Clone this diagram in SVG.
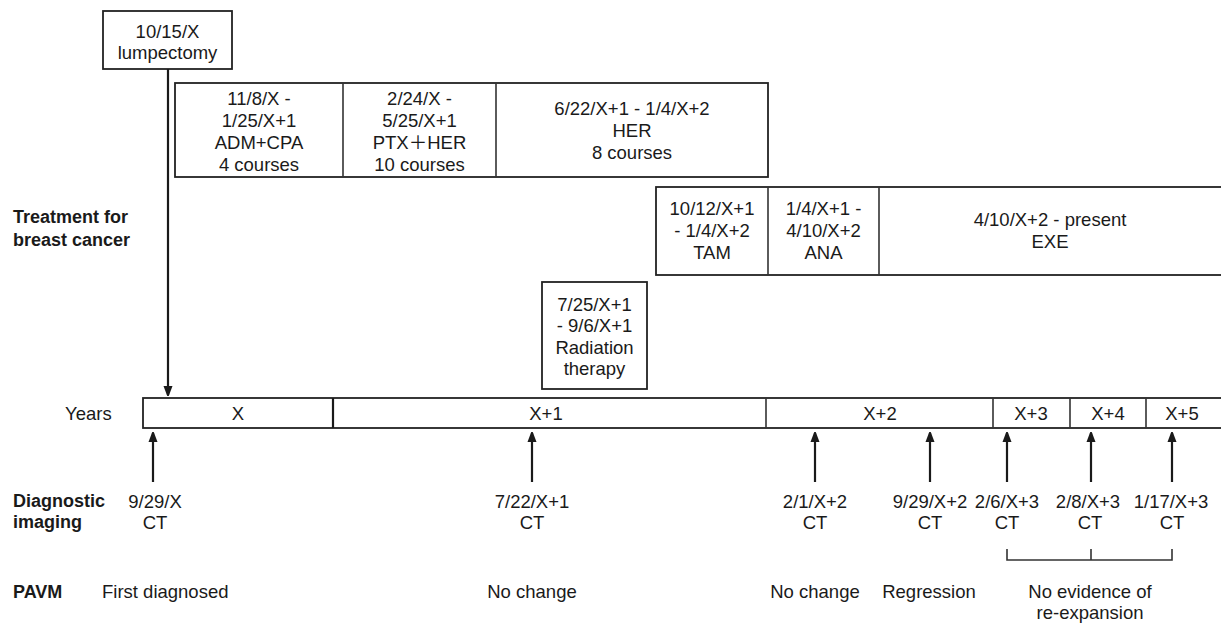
<svg xmlns="http://www.w3.org/2000/svg" width="1221" height="623" viewBox="0 0 1221 623">
<defs>
<style>
text{font-family:"Liberation Sans",Arial,"Noto Sans CJK JP",sans-serif;font-size:18.5px;fill:#1a1a1a;text-anchor:middle}
.b{font-weight:bold;text-anchor:start;font-size:18px}
.s{text-anchor:start}
.box{fill:#fff;stroke:#222;stroke-width:1.8}
.ln{stroke:#1a1a1a;stroke-width:2.2;fill:none}
.br{stroke:#333;stroke-width:1.6;fill:none}
</style>
<marker id="ah" viewBox="0 0 10 14" refX="9" refY="7" markerWidth="10" markerHeight="14" markerUnits="userSpaceOnUse" orient="auto">
<path d="M0,2.5 L12,7 L0,11.5 Z" fill="#1a1a1a"/>
</marker>
</defs>
<rect width="1221" height="623" fill="#fff"/>

<g id="labels">
<text class="b" x="13" y="223">Treatment for</text>
<text class="b" x="13" y="246">breast cancer</text>
<text class="s" x="65" y="420">Years</text>
<text class="b" x="13" y="507">Diagnostic</text>
<text class="b" x="13" y="528">imaging</text>
<text class="b" x="13" y="598">PAVM</text>
</g>

<g id="lumpectomy">
<rect class="box" x="103" y="11" width="129" height="58"/>
<text x="167.5" y="38">10/15/X</text>
<text x="167.5" y="59">lumpectomy</text>
</g>

<g id="chemo">
<rect class="box" x="175" y="83" width="593" height="94"/>
<line class="br" x1="343" y1="83" x2="343" y2="177"/>
<line class="br" x1="496" y1="83" x2="496" y2="177"/>
<text x="259" y="105">11/8/X -</text>
<text x="259" y="127">1/25/X+1</text>
<text x="259" y="149">ADM+CPA</text>
<text x="259" y="171">4 courses</text>
<text x="419.5" y="105">2/24/X -</text>
<text x="419.5" y="127">5/25/X+1</text>
<text x="419.5" y="149">PTX＋HER</text>
<text x="419.5" y="171">10 courses</text>
<text x="632" y="115">6/22/X+1 - 1/4/X+2</text>
<text x="632" y="137">HER</text>
<text x="632" y="159">8 courses</text>
</g>

<g id="hormone">
<rect class="box" x="656" y="187" width="580" height="88"/>
<line class="br" x1="768" y1="187" x2="768" y2="275"/>
<line class="br" x1="879" y1="187" x2="879" y2="275"/>
<text x="712" y="215">10/12/X+1</text>
<text x="712" y="237">- 1/4/X+2</text>
<text x="712" y="259">TAM</text>
<text x="823.5" y="215">1/4/X+1 -</text>
<text x="823.5" y="237">4/10/X+2</text>
<text x="823.5" y="259">ANA</text>
<text x="1050" y="226">4/10/X+2 - present</text>
<text x="1050" y="248">EXE</text>
</g>

<g id="radiation">
<rect class="box" x="542" y="282" width="105" height="107"/>
<text x="594.5" y="311">7/25/X+1</text>
<text x="594.5" y="332">- 9/6/X+1</text>
<text x="594.5" y="354">Radiation</text>
<text x="594.5" y="375">therapy</text>
</g>

<g id="years">
<rect class="box" x="143" y="398" width="1090" height="30"/>
<line class="ln" x1="333" y1="398" x2="333" y2="428"/>
<line class="br" x1="766" y1="398" x2="766" y2="428"/>
<line class="br" x1="993" y1="398" x2="993" y2="428"/>
<line class="br" x1="1070" y1="398" x2="1070" y2="428"/>
<line class="br" x1="1146" y1="398" x2="1146" y2="428"/>
<text x="238" y="420">X</text>
<text x="546" y="420">X+1</text>
<text x="880" y="420">X+2</text>
<text x="1031" y="420">X+3</text>
<text x="1108" y="420">X+4</text>
<text x="1182" y="420">X+5</text>
</g>

<g id="imaging">
<text x="155" y="508">9/29/X</text>
<text x="155" y="529">CT</text>
<text x="532" y="508">7/22/X+1</text>
<text x="532" y="529">CT</text>
<text x="815" y="508">2/1/X+2</text>
<text x="815" y="529">CT</text>
<text x="930" y="508">9/29/X+2</text>
<text x="930" y="529">CT</text>
<text x="1007" y="508">2/6/X+3</text>
<text x="1007" y="529">CT</text>
<text x="1088" y="508">2/8/X+3</text>
<text x="1090" y="529">CT</text>
<text x="1171" y="508">1/17/X+3</text>
<text x="1172" y="529">CT</text>
</g>

<g id="pavm">
<text class="s" x="102" y="598">First diagnosed</text>
<text x="532" y="598">No change</text>
<text x="815" y="598">No change</text>
<text x="929" y="598">Regression</text>
<text x="1090" y="598">No evidence of</text>
<text x="1090" y="619">re-expansion</text>
</g>

<g id="connectors">
<line class="ln" x1="168" y1="69" x2="168" y2="395" marker-end="url(#ah)"/>
<line class="ln" x1="153" y1="482" x2="153" y2="433" marker-end="url(#ah)"/>
<line class="ln" x1="532" y1="482" x2="532" y2="433" marker-end="url(#ah)"/>
<line class="ln" x1="815" y1="482" x2="815" y2="433" marker-end="url(#ah)"/>
<line class="ln" x1="930" y1="482" x2="930" y2="433" marker-end="url(#ah)"/>
<line class="ln" x1="1007" y1="482" x2="1007" y2="433" marker-end="url(#ah)"/>
<line class="ln" x1="1091" y1="482" x2="1091" y2="433" marker-end="url(#ah)"/>
<line class="ln" x1="1172" y1="482" x2="1172" y2="433" marker-end="url(#ah)"/>
<path class="br" d="M1007,549 V560 H1172 V549 M1091,549 V560"/>
</g>
</svg>
